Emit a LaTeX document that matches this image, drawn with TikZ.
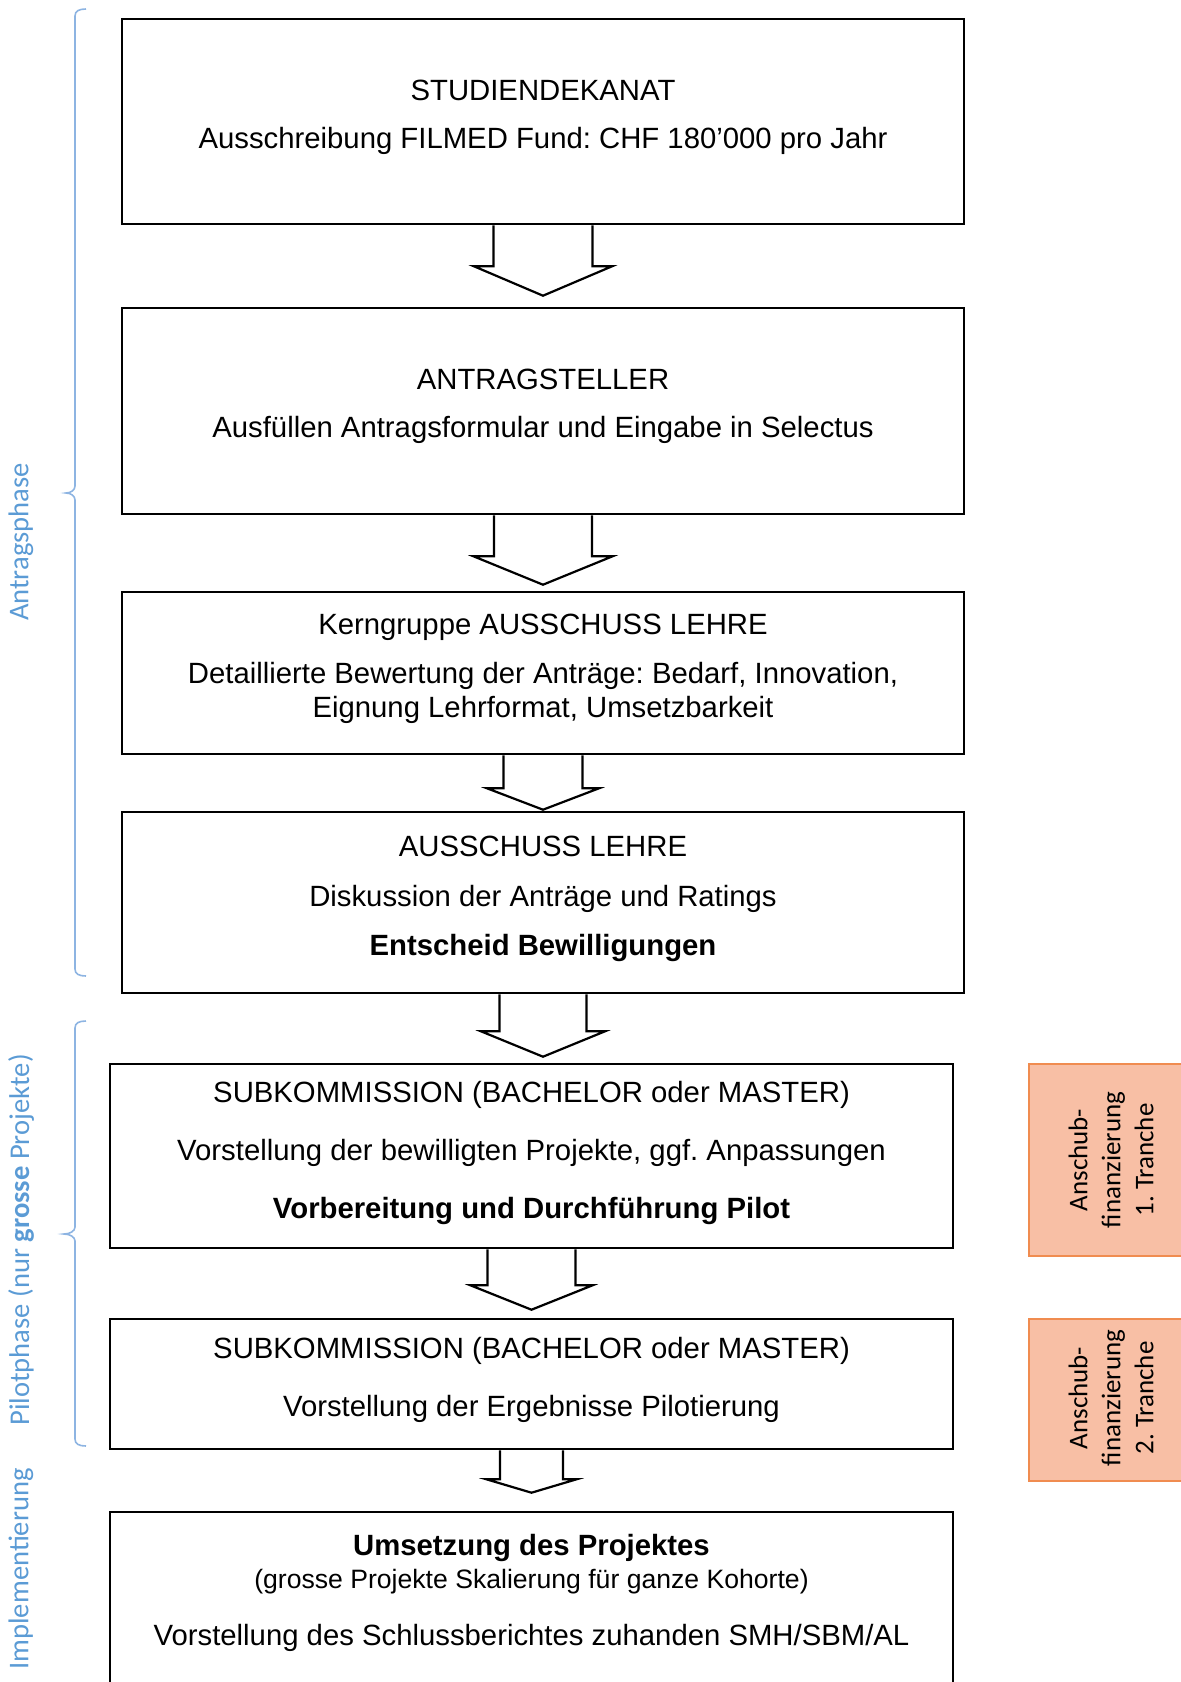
\documentclass[tikz,border=0pt]{standalone}
\usepackage{fontspec}
\setmainfont{Liberation Sans}
\newfontfamily\calibri{Carlito}
\usetikzlibrary{calc}
\definecolor{sideblue}{RGB}{91,155,213}
\definecolor{bracecol}{RGB}{141,180,226}
\definecolor{peach}{RGB}{248,191,165}
\definecolor{peachline}{RGB}{240,140,80}
\newcommand{\blockarrow}[6]{%
  \draw[pfeil] ($(#1.south)+(-#3,0)$) -- ($(#1.south)+(-#3,#5)$) -- ($(#1.south)+(-#4,#5)$)
    -- ($(#1.south |- #2.north)+(0,-#6)$) -- ($(#1.south)+(#4,#5)$) -- ($(#1.south)+(#3,#5)$)
    -- ($(#1.south)+(#3,0)$);}
\frenchspacing
\begin{document}
\begin{tikzpicture}[x=0.5pt,y=-0.5pt,
 flowbox/.style={draw, line width=1.3pt, inner sep=0pt},
 txt/.style={anchor=base, inner sep=0pt, font=\fontsize{14.65}{17}\selectfont},
 smalltxt/.style={anchor=base, inner sep=0pt, font=\fontsize{13.3}{16}\selectfont},
 pfeil/.style={line width=1.1pt, line join=miter},
 fundbox/.style={draw=peachline, fill=peach, line width=0.8pt, inner sep=0pt},
 fundtxt/.style={rotate=90, align=center, font=\calibri\fontsize{13.5}{16.5}\selectfont, inner sep=0pt},
 sidelabel/.style={rotate=90, text=sideblue, font=\calibri\fontsize{14.3}{17}\selectfont, inner sep=0pt},
 bracepath/.style={draw=bracecol, line width=0.8pt}]

\useasboundingbox (0,0) rectangle (1181,1682);
\clip (0,0) rectangle (1181,1682);

% boxes
\node[flowbox, minimum width=421pt, minimum height=102.5pt] (b1) at (543,121.5) {};
\node[flowbox, minimum width=421pt, minimum height=103pt] (b2) at (543,411) {};
\node[flowbox, minimum width=421pt, minimum height=81pt] (b3) at (543,673) {};
\node[flowbox, minimum width=421pt, minimum height=90.5pt] (b4) at (543,902.5) {};
\node[flowbox, minimum width=421.5pt, minimum height=92pt] (b5) at (531.5,1156) {};
\node[flowbox, minimum width=421.5pt, minimum height=65pt] (b6) at (531.5,1384) {};
\node[flowbox, minimum width=421.5pt, minimum height=94pt] (b7) at (531.5,1606) {};

% texts
\node[txt] (t1a) at (543,100) {STUDIENDEKANAT};
\node[txt] (t1b) at (543,148) {Ausschreibung FILMED Fund: CHF 180’000 pro Jahr};
\node[txt] (t2a) at (543,389) {ANTRAGSTELLER};
\node[txt] (t2b) at (543,437) {Ausfüllen Antragsformular und Eingabe in Selectus};
\node[txt] (t3a) at (543,634) {Kerngruppe AUSSCHUSS LEHRE};
\node[txt] (t3b) at (543,683) {Detaillierte Bewertung der Anträge: Bedarf, Innovation,};
\node[txt] (t3c) at (543,717) {Eignung Lehrformat, Umsetzbarkeit};
\node[txt] (t4a) at (543,856) {AUSSCHUSS LEHRE};
\node[txt] (t4b) at (543,906) {Diskussion der Anträge und Ratings};
\node[txt] (t4c) at (543,955) {\bfseries Entscheid Bewilligungen};
\node[txt] (t5a) at (531.5,1102) {SUBKOMMISSION (BACHELOR oder MASTER)};
\node[txt] (t5b) at (531.5,1160) {Vorstellung der bewilligten Projekte, ggf. Anpassungen};
\node[txt] (t5c) at (531.5,1218) {\bfseries Vorbereitung und Durchführung Pilot};
\node[txt] (t6a) at (531.5,1358) {SUBKOMMISSION (BACHELOR oder MASTER)};
\node[txt] (t6b) at (531.5,1416) {Vorstellung der Ergebnisse Pilotierung};
\node[txt] (t7a) at (531.5,1555) {\bfseries Umsetzung des Projektes};
\node[smalltxt] (t7b) at (531.5,1588) {(grosse Projekte Skalierung für ganze Kohorte)};
\node[txt] (t7c) at (531.5,1645) {Vorstellung des Schlussberichtes zuhanden SMH/SBM/AL};

% arrows: from, to, shaft half, head half, base drop, tip gap
\blockarrow{b1}{b2}{49.5}{69}{41}{11}
\blockarrow{b2}{b3}{49}{69.5}{41}{6}
\blockarrow{b3}{b4}{39.5}{56}{33}{1}
\blockarrow{b4}{b5}{43.5}{62}{37}{6}
\blockarrow{b5}{b6}{44}{61}{36}{8}
\blockarrow{b6}{b7}{31.5}{45}{29}{18}

% funding boxes
\node[fundbox, minimum width=81.5pt, minimum height=96pt] (f1) at (1110.5,1160) {};
\node[fundtxt] (f1t) at (1111,1160) {Anschub-\\finanzierung\\1. Tranche};
\node[fundbox, minimum width=81.5pt, minimum height=81pt] (f2) at (1110.5,1400) {};
\node[fundtxt] (f2t) at (1111,1398) {Anschub-\\finanzierung\\2. Tranche};

% braces
\draw[bracepath] (86,9) .. controls (79,9) and (75,11) .. (75,16) -- (75,486)
  .. controls (75,490) and (71,493) .. (66,493) .. controls (71,493) and (75,496) .. (75,500)
  -- (75,969) .. controls (75,974) and (79,976) .. (86,976);
\draw[bracepath] (86,1021) .. controls (79,1021) and (75,1023) .. (75,1028) -- (75,1227)
  .. controls (75,1231) and (70,1234) .. (64,1234) .. controls (70,1234) and (75,1237) .. (75,1241)
  -- (75,1439) .. controls (75,1444) and (79,1446) .. (86,1446);

% side labels
\node[sidelabel] (l1) at (21,542) {Antragsphase};
\node[sidelabel] (l2) at (21,1240) {Pilotphase (nur \textbf{grosse} Projekte)};
\node[sidelabel] (l3) at (21,1569) {Implementierung};
\end{tikzpicture}
\end{document}
